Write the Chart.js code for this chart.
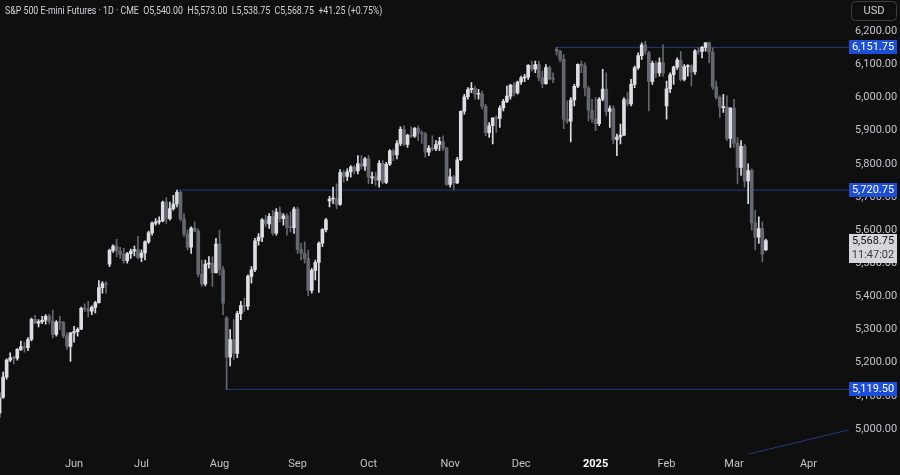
<!DOCTYPE html>
<html>
<head>
<meta charset="utf-8">
<script src="https://cdn.jsdelivr.net/npm/chart.js@4.4.1/dist/chart.umd.min.js"></script>
<style>
  html, body { margin: 0; padding: 0; background: #0f0f0f; }
  canvas { display: block; }
</style>
</head>
<body>
<canvas id="chart" width="900" height="475"></canvas>
<script>
// daily bars, index 0 = 1 May 2024, last = 14 Mar 2025 (ES1! continuous)
var opens = [5072,5048,5095,5157,5208,5215,5214,5240,5248,5245,5270,5331,5319,5324,5328,5340,5325,5285,5322,5321,5281,5249,
  5290,5294,5301,5364,5362,5355.5,5367,5381,5426.5,5438.75,5497,5539,5552,5536.5,5527,5508,5529,5537,5541.5,
  5518,5531,5564.5,5592,5621,5625,5628,5685,5634.5,5665,5679,5714,5634,5589,5549,5606,5597,5467,5438,5497.5,5500,5472,
  5558,5481,5335,5216.5,5270,5228,5348,5372.5,5370.5,5460.5,5480.5,5568,5579,5631,5619,5642,5591,5654.5,5634.5,5643,5608.5,5607.5,
  5663.5,5541,5531,5514,5418,5478.5,5502.5,5560.5,5601.5,5688,5694,5695,5678,5773.5,5762,5776,5790,5778.5,5801,5793,
  5815.5,5758,5761,5750.5,5801.5,5744,5799,5839.5,5827,5861.5,5904.5,5859,5886,5884,5907,5894,5890.5,5835.5,5847.5,5845,5858.5,5867.5,5847.5,
  5738,5761,5742.5,5812.5,5958.75,6002.5,6024,6028,6010,6010.5,5973.5,5894,5915,5938,5937.5,5968.5,5988.5,6004.5,6038,6014.5,
  6047,6059.5,6061.5,6097.5,6085.5,6100,6060.5,6042,6090.5,6056.75,6146,6140,6115.75,5934.75,5929,5992.75,6034.25,6100.25,6096.5,6028.25,5961.75,
  5935.5,5921,5995,6026,5958.5,5967,5873.75,5881,5887,5994.25,5980.75,6040,6090,6126.75,6158.5,6135,6048.75,6103.75,6074.5,6106,
  5975,6026.25,6069,6092,6113.5,6055,6093.5,6095,6077.5,6140.25,6139,6151.5,6165.25,6137.75,6032.5,6000.5,5970,5972,5876.5,
  5968.75,5861.75,5789.5,5853.25,5748.5,5779.5,5621.75,5578.5,5605,5540];
var highs = [5110,5110,5172,5212,5230,5220,5243,5265,5262,5276,5335,5343,5330,5340,5345,5346,5359,5327,5340,5325,5290,5292,
  5310,5305,5368,5378,5385,5372,5385,5448,5445,5445,5543,5556,5572,5548,5545,5533,5543,5552,5581,
  5540,5568,5597,5625,5635,5640,5688,5698,5685,5705,5720.75,5718,5650,5600,5610,5625,5604,5510,5510,5520,5520,5575,
  5600,5490,5340,5300,5330,5355,5385,5395,5465,5490,5575,5590,5635,5645,5650,5660,5665,5670,5650,5650,5655,5670,
  5670,5560,5565,5540,5485,5510,5565,5605,5636,5702,5730,5740,5783,5780,5785,5795,5795,5825,5825,5820,
  5825,5775,5775,5810,5810,5805,5843,5845,5870,5912,5915,5890,5912,5910,5915,5900,5895,5855,5885,5870,5880,5885,5850,
  5785,5765,5820,5960,6010,6030,6045,6035,6025,6020,5980,5925,5940,5945,5975,5995,6035,6040,6045,6050,
  6065,6070,6100,6110,6110,6110,6080,6100,6095,6075,6151.75,6143,6130,5990,6000,6040,6102,6110,6105,6035,5995,
  6000,6000,6085,6075,5975,5975,5890,5920,6000,6015,6055,6095,6135,6165,6170,6140,6110,6110,6120,6160,
  6050,6075,6095,6120,6140,6100,6100,6100,6145,6150,6155,6166,6168,6150,6050,6005,6010,6005,5970,
  5995,5880,5870,5860,5800,5785,5660,5640,5625,5573];
var lows = [5030,5036,5092,5150,5203,5196,5208,5236,5232,5236,5266,5318,5308,5318,5316,5318,5275,5280,5300,5275,5240,5204,
  5262,5280,5300,5355,5338,5345,5350,5380,5410,5410,5490,5533,5520,5515,5500,5500,5515,5522,5513,
  5505,5510,5560,5585,5615,5618,5625,5620,5630,5660,5670,5628,5580,5540,5530,5595,5460,5430,5432,5485,5430,5470,
  5465,5345,5119.5,5190,5210,5215,5330,5355,5360,5440,5475,5555,5565,5610,5605,5585,5585,5625,5615,5585,5595,5590,
  5530,5510,5500,5402,5410,5450,5412,5550,5595,5670,5680,5665,5675,5745,5750,5760,5770,5770,5785,5780,
  5740,5740,5735,5730,5740,5740,5795,5810,5815,5855,5855,5850,5880,5880,5870,5862,5820,5825,5840,5840,5840,5840,5735,
  5730,5722,5740,5810,5950,5995,6015,5995,5995,5965,5885,5880,5860,5895,5910,5960,5985,5995,6005,6010,
  6040,6048,6055,6080,6075,6050,6030,6040,6053,6045,6128,6108,5906,5922,5866,5975,6030,6075,6005,5930,5925,
  5900,5915,5990,5945,5910,5860,5825,5860,5885,5975,5975,6030,6085,6115,6130,5960,6040,6060,6065,6065,
  5935,6015,6040,6085,6050,6050,6065,6035,6070,6130,6120,6140,6105,6025,5995,5940,5955,5870,5850,
  5850,5740,5765,5730,5680,5600,5540,5560,5505,5538.75];
var closes = [5048,5093,5157,5208,5215,5214,5240,5248,5245,5270,5331,5319,5324,5328,5340,5325,5285,5322,5321,5281,5249,5290,
  5294,5301,5364,5362,5355.5,5367,5381,5426.5,5438.75,5436,5539,5552,5536.5,5527,5508,5529,5537,5541.5,5518,
  5531,5564.5,5592,5621,5625,5628,5685,5634.5,5665,5679,5714,5634,5589,5549,5606,5597,5467,5438,5497.5,5500,5472,5558,
  5481,5379.5,5216.5,5270,5228,5348,5372.5,5370.5,5460.5,5480.5,5568,5579,5631,5619,5642,5591,5654.5,5634.5,5643,5608.5,5607.5,5663.5,
  5541,5531,5514,5418,5478.5,5502.5,5560.5,5601.5,5631,5694,5695,5678,5773.5,5762,5776,5790,5778.5,5801,5793,5815.5,
  5761,5761,5750.5,5801.5,5744,5799,5839.5,5827,5861.5,5904.5,5859,5886,5884,5907,5894,5890.5,5835.5,5847.5,5845,5858.5,5867.5,5847.5,5738,
  5761,5742.5,5812.5,5958.75,6002.5,6024,6028,6010,6010.5,5973.5,5894,5915,5938,5937.5,5968.5,5988.5,6004.5,6038,6014.5,6047,
  6059.5,6061.5,6097.5,6085.5,6100,6060.5,6042,6090.5,6056.75,6056,6140,6115.75,5934.75,5929,5992.75,6034.25,6100.25,6096.5,6028.25,5961.75,5935.5,
  5921,5995,6026,5958.5,5967,5873.75,5881,5887,5994.25,5980.75,6040,6090,6126.75,6158.5,6140.25,6048.75,6103.75,6074.5,6106,6074.5,
  6026.25,6069,6092,6113.5,6055,6093.5,6095,6077.5,6140.25,6139,6151.5,6165.25,6137.75,6032.5,6000.5,5971.75,5972,5876.5,5968.75,
  5861.75,5789.5,5853.25,5748.5,5779.5,5621.75,5578.5,5605,5527.5,5568.75];

var monthStarts = [22, 41, 63, 85, 105, 128, 148, 169, 189, 208, 229];
var monthLabels = ['Jun', 'Jul', 'Aug', 'Sep', 'Oct', 'Nov', 'Dec', '2025', 'Feb', 'Mar', 'Apr'];
var priceTicks = [5000, 5100, 5200, 5300, 5400, 5500, 5600, 5700, 5800, 5900, 6000, 6100, 6200];

// horizontal rays: level and the bar they start from
var levels = [6151.75, 5720.75, 5119.5];
var levelStart = [158, 51, 65];
// trend line drawn in the lower right
var trendX = [200, 245];
var trendY = [4892.9, 5009.5];

var lastPrice = 5568.75;
var countdown = '11:47:02';
var title = 'S&P 500 E-mini Futures \u00b7 1D \u00b7 CME  O5,540.00  H5,573.00  L5,538.75  C5,568.75  +41.25 (+0.75%)';

var upColor = '#dcdee4';
var downColor = '#64676f';
var levelColor = '#233c7e';
var candleColors = closes.map(function (c, i) { return c >= opens[i] ? upColor : downColor; });

function fmt(v) {
  return v.toLocaleString('en-US', { minimumFractionDigits: 2, maximumFractionDigits: 2 });
}

var datasets = [{
  label: 'wicks',
  data: lows.map(function (l, i) { return { x: i, y: [l, highs[i]] }; }),
  backgroundColor: candleColors,
  barThickness: 1,
  grouped: false
}, {
  label: 'bodies',
  data: opens.map(function (o, i) { return { x: i, y: [o, closes[i]] }; }),
  backgroundColor: candleColors,
  barThickness: 3,
  minBarLength: 1,
  grouped: false
}];

levels.forEach(function (lv, k) {
  datasets.push({
    type: 'line',
    label: 'level' + k,
    data: [{ x: levelStart[k], y: lv }, { x: 260, y: lv }],
    borderColor: levelColor,
    borderWidth: 1,
    pointRadius: 0,
    clip: { left: 0, top: 0, right: 7, bottom: 0 }
  });
});
datasets.push({
  type: 'line',
  label: 'trend',
  data: [{ x: trendX[0], y: trendY[0] }, { x: trendX[1], y: trendY[1] }],
  borderColor: levelColor,
  borderWidth: 1,
  pointRadius: 0,
  clip: { left: 0, top: 0, right: 7, bottom: 0 }
});

var decor = {
  id: 'decor',
  beforeDraw: function (chart) {
    var c = chart.ctx;
    c.save();
    c.fillStyle = '#0f0f0f';
    c.fillRect(0, 0, chart.width, chart.height);
    c.restore();
  },
  afterDraw: function (chart) {
    var c = chart.ctx;
    var y = chart.scales.y;
    c.save();
    c.font = '11px Roboto';
    c.textBaseline = 'middle';
    c.fillStyle = '#d1d4dc';
    c.textAlign = 'left';
    c.save();
    c.scale(0.8, 1);
    c.fillText(title, 5 / 0.8, 11);
    c.restore();

    // USD box
    c.strokeStyle = '#3b3e46';
    c.lineWidth = 1;
    c.beginPath();
    c.roundRect(851.5, 1.5, 45, 19, 4);
    c.stroke();
    c.textAlign = 'center';
    c.fillStyle = '#d1d4dc';
    c.fillText('USD', 874, 11.5);

    // level labels
    levels.forEach(function (lv) {
      var py = Math.round(y.getPixelForValue(lv));
      c.fillStyle = '#1d4fd6';
      c.fillRect(849, py - 7, 48, 14);
      c.fillStyle = '#ffffff';
      c.fillText(fmt(lv), 873, py + 0.5);
    });

    // last price box
    var pp = Math.round(y.getPixelForValue(lastPrice));
    c.fillStyle = '#d4d6dc';
    c.fillRect(849, pp - 7, 48, 29);
    c.fillStyle = '#131313';
    c.fillText(fmt(lastPrice), 873, pp + 0.5);
    c.fillStyle = '#3a3a3a';
    c.fillText(countdown, 873, pp + 14.5);
    c.restore();
  }
};

var ctx = document.getElementById('chart');
new Chart(ctx, {
  type: 'bar',
  data: { datasets: datasets },
  options: {
    responsive: false,
    animation: false,
    devicePixelRatio: 1,
    layout: { padding: 0 },
    plugins: { legend: { display: false }, tooltip: { enabled: false } },
    scales: {
      x: {
        type: 'linear',
        offset: false,
        min: 1.127,
        max: 238.45,
        grid: { display: false, drawTicks: false },
        border: { display: false },
        afterFit: function (s) { s.height = 21; },
        afterBuildTicks: function (s) {
          s.ticks = monthStarts.map(function (v) { return { value: v }; });
        },
        ticks: {
          autoSkip: false,
          maxRotation: 0,
          padding: 4,
          color: function (c) { return c.tick && c.tick.value === 169 ? '#ffffff' : '#c3c5cb'; },
          font: function (c) {
            return { family: 'Roboto', size: 11, weight: c.tick && c.tick.value === 169 ? 'bold' : 'normal' };
          },
          callback: function (v) {
            var k = monthStarts.indexOf(v);
            return k >= 0 ? monthLabels[k] : '';
          }
        }
      },
      y: {
        position: 'right',
        min: 4924.5,
        max: 6235.4,
        grid: { display: false, drawTicks: false },
        border: { display: false },
        afterFit: function (s) { s.width = 58; },
        afterBuildTicks: function (s) {
          s.ticks = priceTicks.map(function (v) { return { value: v }; });
        },
        ticks: {
          padding: 13,
          color: '#c3c5cb',
          font: { family: 'Roboto', size: 11 },
          callback: function (v) { return fmt(v); }
        }
      }
    }
  },
  plugins: [decor]
});
</script>
</body>
</html>
